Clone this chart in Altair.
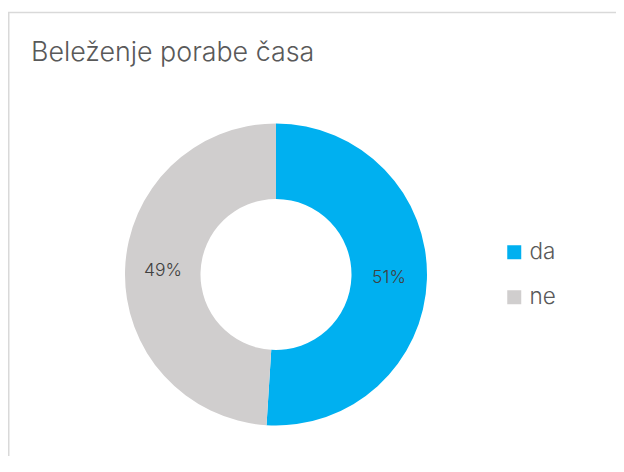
import altair as alt
import pandas as pd

title_text = "Beleženje porabe časa"
categories = ["da", "ne"]
values = [51, 49]
labels = ["51%", "49%"]
colors = ["#00B0F0", "#D0CECE"]
order = [0, 1]

df = pd.DataFrame({"cat": categories, "val": values, "label": labels, "order": order})

W, H = 608, 448
CX, CY = 268, 266.5
FONT = "Inter"

base = alt.Chart(df).encode(
    theta=alt.Theta("val:Q", stack=True),
    order=alt.Order("order:Q"),
)

arcs = base.mark_arc(outerRadius=151, innerRadius=75.5, x=CX, y=CY, strokeWidth=0).encode(
    color=alt.Color(
        "cat:N",
        scale=alt.Scale(domain=categories, range=colors),
        legend=alt.Legend(
            title=None,
            orient="none",
            legendX=495,
            legendY=233,
            symbolType="square",
            symbolSize=196,
            symbolStrokeWidth=0,
            labelFont=FONT,
            labelFontSize=22.5,
            labelFontWeight=300,
            labelColor="#595959",
            labelOffset=4,
            rowPadding=22,
            padding=0,
        ),
    )
)

text = base.mark_text(
    radius=113, x=CX, y=CY, font=FONT, fontSize=17.5, fontWeight=300, color="#404040"
).encode(text="label:N")

title = alt.Chart(pd.DataFrame({"t": [title_text]})).mark_text(
    font=FONT, fontSize=26.8, fontWeight=300, color="#595959", align="left", baseline="alphabetic"
).encode(text="t:N", x=alt.value(23), y=alt.value(53))

one = pd.DataFrame({"a": [0]})
left_line = alt.Chart(one).mark_rule(color="#D9D9D9", strokeWidth=1.5).encode(
    x=alt.value(0.75), y=alt.value(4), y2=alt.value(H)
)
top_line = alt.Chart(one).mark_rule(color="#D9D9D9", strokeWidth=1.5).encode(
    x=alt.value(0), x2=alt.value(W), y=alt.value(4.5)
)

chart = alt.layer(left_line, top_line, arcs, text, title).properties(
    width=W,
    height=H,
    autosize=alt.AutoSizeParams(type="none"),
    padding=0,
    background="white",
).configure_view(strokeWidth=0)

chart.save("out.html", embed_options={"renderer": "svg", "actions": False})
